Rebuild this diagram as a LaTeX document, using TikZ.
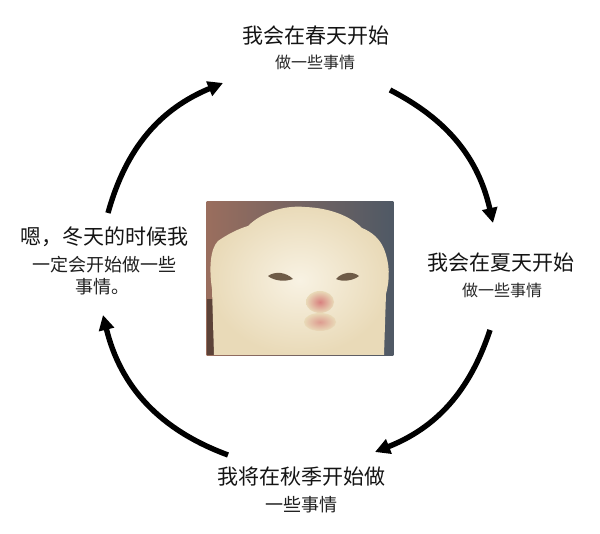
\documentclass[tikz,border=0pt]{standalone}
\usepackage{fontspec}
\setmainfont{Noto Sans CJK SC}
\usepackage{xcolor}
\usetikzlibrary{arrows.meta}
\usetikzlibrary{shapes}

\definecolor{fellhell}{HTML}{F8F2E3}
\definecolor{fell}{HTML}{E9DAB8}
\definecolor{hgbraun}{HTML}{9A6E5E}
\definecolor{hgblau}{HTML}{4F5965}
\definecolor{auge}{HTML}{6E5B47}
\definecolor{nase}{HTML}{D8817F}

\begin{document}
\begin{tikzpicture}[x=0.5pt, y=0.5pt,
		kreis/.style={line width=2.7pt, -{Triangle[length=7.5pt, width=7.5pt]}},
		titel/.style={font=\fontsize{10.5}{12}\selectfont, text=black!92, inner sep=0pt},
		mittel/.style={font=\fontsize{9}{11}\selectfont, text=black!88, inner sep=0pt},
		unter/.style={font=\fontsize{8}{10}\selectfont, text=black!85, inner sep=0pt},
		foto/.style={minimum width=93pt, minimum height=76.5pt, inner sep=0pt}]
		\useasboundingbox[fill=white] (0,0) rectangle (600,534);
		%
		%Katze
		\node[foto] (katze) at (300,255.5) {};
		\begin{scope}
			\clip (katze.south west) rectangle (katze.north east);
			\shade[left color=hgbraun, right color=hgblau] (katze.south west) rectangle (katze.north east);
			\fill[hgbraun!60!black] (207,179) rectangle (228,235);
			\shade[inner color=fellhell, outer color=fell]
			(214,179) -- (212,245) .. controls (209,265) and (210,285) .. (218,293)
			.. controls (228,300) and (238,305) .. (248,308)
			.. controls (262,322) and (285,329) .. (305,327)
			.. controls (330,326) and (350,318) .. (362,306)
			.. controls (372,302) and (380,295) .. (384,285)
			.. controls (390,270) and (390,255) .. (386,240) -- (384,179) -- cycle;
			%Augen
			\fill[auge] (268,258) .. controls (275,263) and (286,262) .. (293,255)
			.. controls (285,252) and (274,253) .. cycle;
			\fill[auge] (336,255) .. controls (342,262) and (353,263) .. (359,258)
			.. controls (353,253) and (342,252) .. cycle;
			%Nase
			\shade[inner color=nase, outer color=fell] (320,232) ellipse [x radius=14, y radius=11];
			\shade[inner color=nase!70!fell, outer color=fell] (320,212) ellipse [x radius=16, y radius=9];
		\end{scope}
		%
		%Fruehling
		\node[titel] (fruehling) at (316,498) {我会在春天开始};
		\node[unter] (fruehlingb) at (315,472) {做一些事情};
		%
		%Sommer
		\node[titel] (sommer) at (501,271) {我会在夏天开始};
		\node[unter] (sommerb) at (502,244) {做一些事情};
		%
		%Herbst
		\node[titel] (herbst) at (301,57) {我将在秋季开始做};
		\node[mittel] (herbstb) at (301,29) {一些事情};
		%
		%Winter
		\node[titel] (winter) at (104,297) {嗯，冬天的时候我};
		\node[mittel] (winterb) at (104.5,269) {一定会开始做一些};
		\node[mittel, anchor=west] (winterc) at (75,247) {事情。};
		%
		%Pfeile
		\coordinate (w1) at (108,321);
		\coordinate (f0) at (223,451);
		\coordinate (f1) at (390,444);
		\coordinate (s0) at (493,311);
		\coordinate (s1) at (490,204);
		\coordinate (h0) at (375,82);
		\coordinate (h1) at (228,79);
		\coordinate (w0) at (103,219);
		\draw[kreis] (w1) to[bend left=26] (f0);
		\draw[kreis] (f1) to[bend left=25] (s0);
		\draw[kreis] (s1) to[bend left=25] (h0);
		\draw[kreis] (h1) to[bend left=28] (w0);
	\end{tikzpicture}
\end{document}
